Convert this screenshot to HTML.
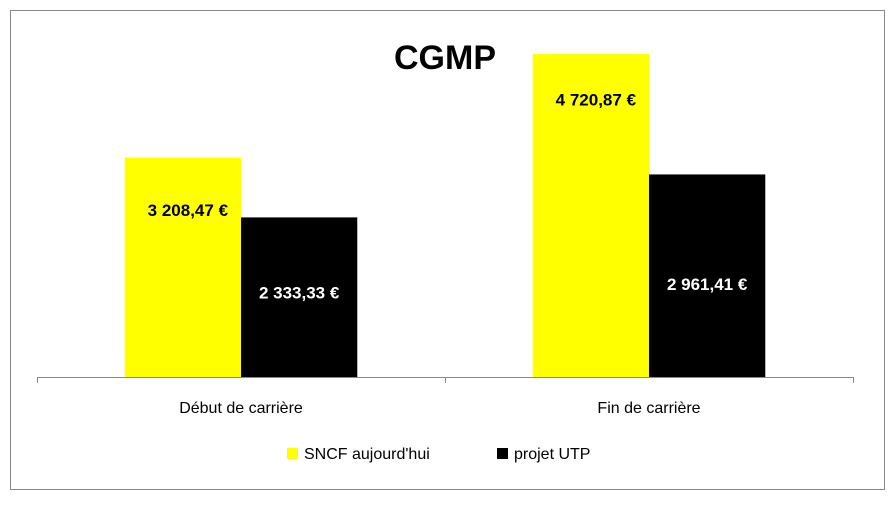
<!DOCTYPE html>
<html><head><meta charset="utf-8"><style>
body{margin:0;background:#fff;width:895px;height:502px;overflow:hidden}
svg{font-family:"Liberation Sans",sans-serif}
</style></head><body>
<svg width="895" height="502" id="c">
<rect x="10.5" y="10.5" width="874" height="479" fill="#fff" stroke="#888"/>
<text x="445" y="69" text-anchor="middle" font-size="34" font-weight="bold">CGMP</text>
<g id="plot"></g>
<g>
<rect x="287" y="448" width="11" height="11" fill="#ffff00"/>
<text x="304" y="459" font-size="16">SNCF aujourd'hui</text>
<rect x="497" y="448" width="11" height="11" fill="#000"/>
<text x="514" y="459" font-size="16">projet UTP</text>
</g>
</svg>
<script>
const categories=["Début de carrière","Fin de carrière"];
const sncf=[3208.47,4720.87];
const utp=[2333.33,2961.41];
const sncfLabels=["3 208,47 €","4 720,87 €"];
const utpLabels=["2 333,33 €","2 961,41 €"];
const sncfLabelPos=[0.24,0.14];
const utpLabelPos=[0.47,0.54];
const yMax=5000;
const NS="http://www.w3.org/2000/svg";
const g=document.getElementById('plot');
const x0=37,x1=853,base=377,yTop=35;
const y=v=>base-(v/yMax)*(base-yTop);
const bw=(x1-x0)/categories.length;
function mk(t,a){const e=document.createElementNS(NS,t);for(const k in a)e.setAttribute(k,a[k]);g.appendChild(e);return e;}
categories.forEach((c,i)=>{
 const gx=x0+i*bw, barW=bw*0.285, xs=gx+bw/2-barW;
 const series=[[sncf,"#ffff00",sncfLabels,sncfLabelPos,"#000","sncf"],[utp,"#000",utpLabels,utpLabelPos,"#fff","utp"]];
 series.forEach((s,j)=>{
  const v=s[0][i], bx=xs+j*barW, by=y(v);
  const r=mk('rect',{x:bx,y:by,width:barW,height:base-by,fill:s[1]});
  
  
  const t=mk('text',{x:bx+barW/2+(j==0?5:0),y:by+(base-by)*s[3][i]+6,'text-anchor':'middle','font-size':17,'font-weight':'bold',fill:s[4]});
  t.textContent=s[2][i];
  
  
 });
 const ct=mk('text',{x:gx+bw/2,y:413,'text-anchor':'middle','font-size':16});
 ct.textContent=c;
 
 
});
const ax=mk('line',{x1:x0,y1:base+0.5,x2:x1,y2:base+0.5,stroke:'#888'});


for(let i=0;i<=categories.length;i++){
 const tx=Math.round(x0+i*bw)+0.5;
 const tk=mk('line',{x1:tx,y1:base,x2:tx,y2:base+6,stroke:'#888'});
 
 
}
</script>
</body></html>
